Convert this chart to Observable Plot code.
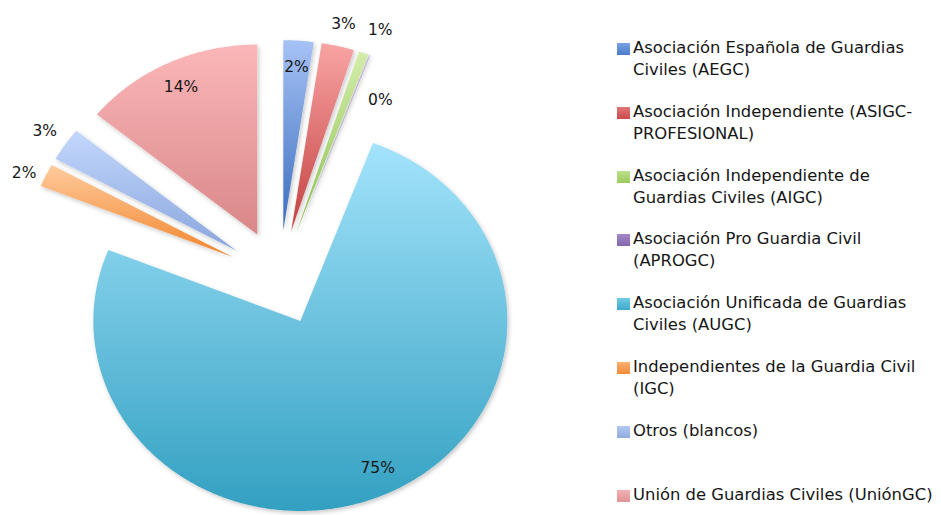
<!DOCTYPE html>
<html>
<head>
<meta charset="utf-8">
<script src="https://cdn.jsdelivr.net/npm/d3@7"></script>
<script src="https://cdn.jsdelivr.net/npm/@observablehq/plot@0.6"></script>
<style>
  html, body { margin: 0; padding: 0; background: #ffffff; }
  #wrap { position: relative; width: 941px; height: 515px; overflow: hidden; font-family: "DejaVu Sans", sans-serif; }
  #chart { position: absolute; left: 0; top: 0; }
  #legend { position: absolute; left: 616px; top: 37px; font-size: 16.4px; line-height: 22px; color: #161616; }
  .item { position: relative; height: 63.8px; padding-left: 17px; white-space: nowrap; }
  .sw { position: absolute; left: 1px; top: 6px; width: 13px; height: 12px; }
</style>
</head>
<body>
<div id="wrap"><div id="chart"></div><div id="legend"></div></div>
<script>
// ---- data ----
const categories = [
  "Asociación Española de Guardias Civiles (AEGC)",
  "Asociación Independiente (ASIGC-PROFESIONAL)",
  "Asociación Independiente de Guardias Civiles (AIGC)",
  "Asociación Pro Guardia Civil (APROGC)",
  "Asociación Unificada de Guardias Civiles (AUGC)",
  "Independientes de la Guardia Civil (IGC)",
  "Otros (blancos)",
  "Unión de Guardias Civiles (UniónGC)"
];
const codes = ["AEGC", "ASIGC", "AIGC", "APROGC", "AUGC", "IGC", "Otros", "UnionGC"];
const shares = [2.35, 2.55, 0.75, 0.05, 75.4, 1.95, 2.85, 14.1];
const legendLines = [
  ["Asociación Española de Guardias", "Civiles (AEGC)"],
  ["Asociación Independiente (ASIGC-", "PROFESIONAL)"],
  ["Asociación Independiente de", "Guardias Civiles (AIGC)"],
  ["Asociación Pro Guardia Civil", "(APROGC)"],
  ["Asociación Unificada de Guardias", "Civiles (AUGC)"],
  ["Independientes de la Guardia Civil", "(IGC)"],
  ["Otros (blancos)"],
  ["Unión de Guardias Civiles (UniónGC)"]
];

// ---- styles ----
const topColors    = ["#a6c2f5", "#f9a4a4", "#d4edaa", "#bca6da", "#a3e3fb", "#fecb9c", "#c3d8fd", "#fbb7b9"];
const bottomColors = ["#3b6cbc", "#c2403f", "#8cc04f", "#7a5ca0", "#33a0c1", "#f2852e", "#8aa5dc", "#d98788"];
const swatchTop    = ["#7aa3e2", "#e27474", "#bde08a", "#a488c8", "#6fcbe6", "#fbb06e", "#b1c9f2", "#f1b0b2"];
const swatchBottom = ["#4a7cc8", "#c94c4c", "#9cca5e", "#8466ad", "#3fa8cb", "#f38a3a", "#8fabe0", "#e09597"];

// ---- layout ----
const W = 600, H = 515;
const cx = 279, cy = 277;      // pie centre (px)
const rx = 207, ry = 190;      // radius (px) horizontally / vertically
const explode = 0.25;          // explosion, in radii
const insideR = 0.86, outsideR = 1.37;
const labelRules = {
  AEGC: {inside: true},
  AUGC: {inside: true, angle: -2},
  UnionGC: {inside: true},
  AIGC: {angle: 1.5, r: 1.39},
  APROGC: {angle: 7.1, r: 1.054},
  IGC: {angle: -1.5, r: 1.35}
};

const rows = categories.map((c, i) => ({cat: c, code: codes[i], share: shares[i], i}));
const total = d3.sum(shares);
const arcs = d3.pie().sort(null).value(d => d.share)(rows);

const rad = Math.PI / 180;
const slices = arcs.map(a => {
  const mid = (a.startAngle + a.endAngle) / 2;
  const ox = explode * Math.sin(mid), oy = explode * Math.cos(mid);
  const n = Math.max(2, Math.ceil((a.endAngle - a.startAngle) / (0.5 * rad)));
  const pts = [{x: ox, y: oy}];
  for (let k = 0; k <= n; k++) {
    const t = a.startAngle + (a.endAngle - a.startAngle) * k / n;
    pts.push({x: ox + Math.sin(t), y: oy + Math.cos(t)});
  }
  pts.push({x: ox, y: oy});
  const rule = labelRules[a.data.code] || {};
  const la = mid + (rule.angle || 0) * rad;
  let lx, ly;
  if (rule.inside) {
    const r = rule.r || insideR;
    lx = ox + r * Math.sin(la); ly = oy + r * Math.cos(la);
  } else {
    const r = rule.r || outsideR;
    lx = r * Math.sin(la); ly = r * Math.cos(la);
  }
  return {
    i: a.data.i, pts,
    label: {x: lx, y: ly, text: Math.round(a.data.share / total * 100) + "%"}
  };
});

const marks = slices.map(s =>
  Plot.line(s.pts, {x: "x", y: "y", fill: `url(#grad${s.i})`, stroke: "none", curve: "linear"})
);
marks.push(Plot.text(slices.map(s => s.label), {
  x: "x", y: "y", text: "text", fontSize: 15.5, fill: "#161616",
  fontFamily: "DejaVu Sans, sans-serif"
}));

const plot = Plot.plot({
  width: W, height: H,
  marginTop: 0, marginRight: 0, marginBottom: 0, marginLeft: 0,
  x: {domain: [-cx / rx, (W - cx) / rx], axis: null},
  y: {domain: [-(H - cy) / ry, cy / ry], axis: null},
  style: {background: "transparent", overflow: "visible"},
  marks
});

// gradient + shadow definitions
const svg = d3.select(plot.tagName.toLowerCase() === "svg" ? plot : plot.querySelector("svg"));
const defs = svg.insert("defs", ":first-child");
const f = defs.append("filter").attr("id", "shadow").attr("x", "-20%").attr("y", "-20%").attr("width", "140%").attr("height", "140%");
f.append("feDropShadow").attr("dx", 1.5).attr("dy", 2).attr("stdDeviation", 2)
  .attr("flood-color", "#000").attr("flood-opacity", 0.22);
rows.forEach((r, i) => {
  const g = defs.append("linearGradient").attr("id", `grad${i}`)
    .attr("x1", 0).attr("y1", 0).attr("x2", 0).attr("y2", 1);
  g.append("stop").attr("offset", "0%").attr("stop-color", topColors[i]);
  g.append("stop").attr("offset", "100%").attr("stop-color", bottomColors[i]);
});
svg.selectAll("g").filter(function() {
  return (this.getAttribute("fill") || "").startsWith("url(");
}).attr("filter", "url(#shadow)");
svg.selectAll("path").filter(function() {
  return (this.getAttribute("fill") || "").startsWith("url(");
}).attr("filter", "url(#shadow)");

document.getElementById("chart").appendChild(plot);

// legend
const legend = d3.select("#legend");
legendLines.forEach((lines, i) => {
  const item = legend.append("div").attr("class", "item");
  item.append("div").attr("class", "sw")
    .style("background", `linear-gradient(to bottom, ${swatchTop[i]}, ${swatchBottom[i]})`);
  item.append("div").html(lines.map(l => l.replace(/&/g, "&amp;")).join("<br>"));
});
</script>
</body>
</html>
